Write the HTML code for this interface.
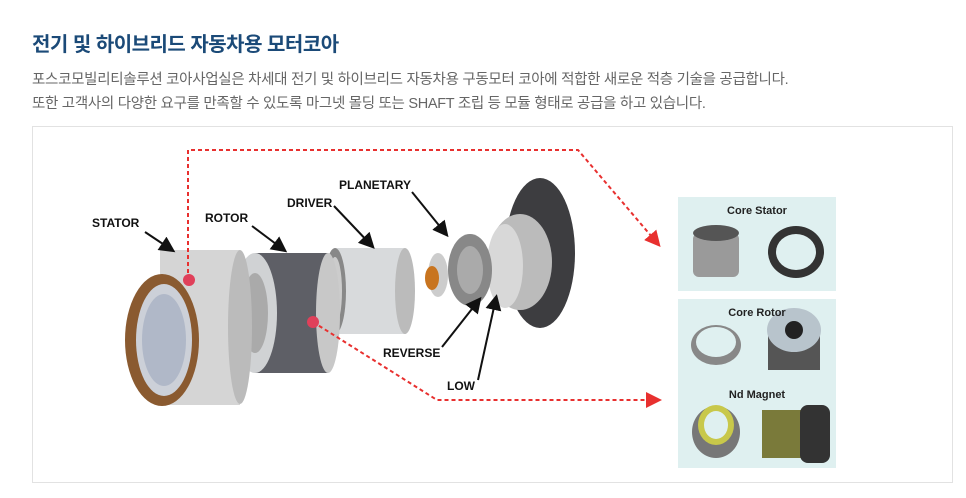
<!DOCTYPE html>
<html><head><meta charset="utf-8"><style>
body{margin:0;background:#fff;width:966px;height:498px;overflow:hidden;font-family:"Liberation Sans","Noto Sans CJK KR",sans-serif;position:relative}
.t{position:absolute;left:32px;top:28px;font-size:20px;font-weight:bold;color:#1b4a78;letter-spacing:-0.5px}
.p{position:absolute;left:32px;font-size:14.5px;color:#666;letter-spacing:-0.3px}
.box{position:absolute;left:32px;top:126px;width:919px;height:355px;border:1px solid #e2e2e2}
.pn{position:absolute;background:#dff0f0}
</style></head><body>
<div class="t">전기 및 하이브리드 자동차용 모터코아</div>
<div class="p" style="top:68px">포스코모빌리티솔루션 코아사업실은 차세대 전기 및 하이브리드 자동차용 구동모터 코아에 적합한 새로운 적층 기술을 공급합니다.</div>
<div class="p" style="top:92px">또한 고객사의 다양한 요구를 만족할 수 있도록 마그넷 몰딩 또는 SHAFT 조립 등 모듈 형태로 공급을 하고 있습니다.</div>
<div class="box"></div>
<div class="pn" style="left:678px;top:197px;width:158px;height:94px"></div>
<div class="pn" style="left:678px;top:299px;width:158px;height:169px"></div>
<svg width="966" height="498" style="position:absolute;left:0;top:0">
<defs><marker id="a" markerWidth="8" markerHeight="8" refX="6" refY="4" orient="auto"><path d="M0,0L8,4L0,8z" fill="#e8302f"/></marker>
<marker id="b" markerWidth="8" markerHeight="8" refX="6" refY="4" orient="auto"><path d="M0,0L8,4L0,8z" fill="#111"/></marker></defs>
<!-- panel parts -->
<rect x="693" y="233" width="46" height="44" rx="6" fill="#9a9a9a"/><ellipse cx="716" cy="233" rx="23" ry="8" fill="#555"/>
<ellipse cx="796" cy="252" rx="28" ry="26" fill="#333"/><ellipse cx="796" cy="252" rx="20" ry="18" fill="#dff0f0"/>
<ellipse cx="716" cy="345" rx="25" ry="20" fill="#888"/><ellipse cx="716" cy="342" rx="20" ry="15" fill="#dff0f0"/>
<rect x="768" y="330" width="52" height="40" fill="#555"/><ellipse cx="794" cy="330" rx="27" ry="22" fill="#b8c4cc"/><circle cx="794" cy="330" r="9" fill="#222"/>
<ellipse cx="716" cy="432" rx="24" ry="26" fill="#777"/><ellipse cx="716" cy="425" rx="18" ry="20" fill="#c8c84a"/><ellipse cx="716" cy="425" rx="12" ry="14" fill="#dff0f0"/>
<rect x="762" y="410" width="40" height="48" fill="#7a7a3a"/><rect x="800" y="405" width="30" height="58" rx="8" fill="#333"/>
<g font-family="Liberation Sans,sans-serif" font-size="11" font-weight="bold" fill="#222" text-anchor="middle">
<text x="757" y="214">Core Stator</text><text x="757" y="316">Core Rotor</text><text x="757" y="398">Nd Magnet</text></g>
<!-- motor -->
<ellipse cx="540" cy="253" rx="35" ry="75" fill="#3d3d40"/>
<ellipse cx="520" cy="262" rx="32" ry="48" fill="#bbb"/>
<ellipse cx="505" cy="266" rx="18" ry="42" fill="#d8d8d8"/>
<ellipse cx="470" cy="270" rx="22" ry="36" fill="#888"/>
<ellipse cx="470" cy="270" rx="13" ry="24" fill="#aaa"/>
<ellipse cx="438" cy="275" rx="10" ry="22" fill="#ccc"/>
<ellipse cx="432" cy="278" rx="7" ry="12" fill="#c8741f"/>
<rect x="335" y="248" width="70" height="86" fill="#d8dadc"/>
<ellipse cx="405" cy="291" rx="10" ry="43" fill="#bbb"/>
<ellipse cx="335" cy="291" rx="11" ry="43" fill="#888"/>
<ellipse cx="335" cy="291" rx="7" ry="34" fill="#ccc"/>
<rect x="255" y="253" width="73" height="120" fill="#5e5f66"/>
<ellipse cx="328" cy="313" rx="12" ry="60" fill="#c8c8c8"/>
<ellipse cx="255" cy="313" rx="22" ry="60" fill="#d0d2d4"/>
<ellipse cx="255" cy="313" rx="13" ry="40" fill="#aaa"/>
<rect x="160" y="250" width="80" height="155" fill="#d5d5d5"/>
<ellipse cx="240" cy="327" rx="12" ry="77" fill="#bbb"/>
<ellipse cx="162" cy="340" rx="37" ry="66" fill="#8a5a30"/>
<ellipse cx="164" cy="340" rx="28" ry="56" fill="#ccd0d8"/>
<ellipse cx="164" cy="340" rx="22" ry="46" fill="#b0b8c8"/>
<!-- red dashed -->
<g stroke="#e8302f" stroke-width="2" stroke-dasharray="4,3" fill="none">
<path d="M188 280V150H578L658 244" marker-end="url(#a)"/>
<path d="M313 322L437 400H658" marker-end="url(#a)"/>
</g>
<circle cx="189" cy="280" r="6" fill="#e0405a"/><circle cx="313" cy="322" r="6" fill="#e0405a"/>
<!-- black arrows -->
<g stroke="#111" stroke-width="2" fill="none">
<path d="M145 232L172 250" marker-end="url(#b)"/>
<path d="M252 226L284 250" marker-end="url(#b)"/>
<path d="M334 206L372 246" marker-end="url(#b)"/>
<path d="M412 192L446 234" marker-end="url(#b)"/>
<path d="M442 347L479 300" marker-end="url(#b)"/>
<path d="M478 380L496 298" marker-end="url(#b)"/>
</g>
<g font-family="Liberation Sans,sans-serif" font-size="12" font-weight="bold" fill="#111">
<text x="92" y="227">STATOR</text><text x="205" y="222">ROTOR</text><text x="287" y="207">DRIVER</text>
<text x="339" y="189">PLANETARY</text><text x="383" y="357">REVERSE</text><text x="447" y="390">LOW</text>
</g>
</svg>
</body></html>
